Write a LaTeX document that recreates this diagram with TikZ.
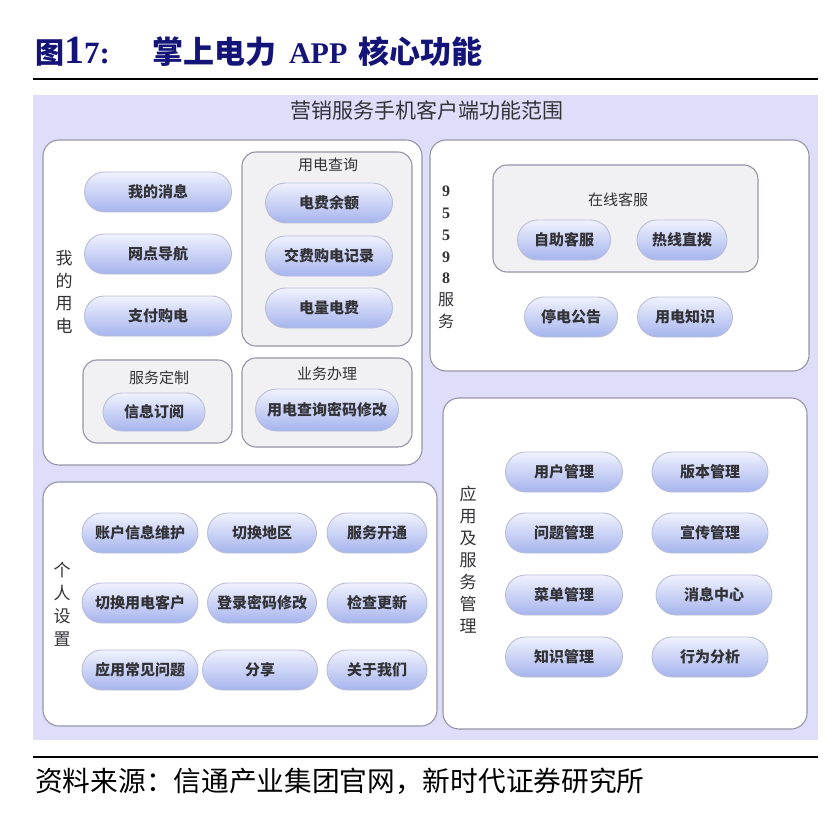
\documentclass[tikz,border=0pt]{standalone}
\usepackage{fontspec}
\setmainfont{Noto Sans CJK SC}
\newfontfamily\serifnum{Liberation Serif}
\usetikzlibrary{shapes.misc}

\definecolor{navy}{RGB}{20,20,120}
\definecolor{backlav}{RGB}{222,222,250}
\definecolor{panelrim}{RGB}{150,150,168}
\definecolor{subfill}{RGB}{241,241,244}
\definecolor{pilltop}{RGB}{240,242,253}
\definecolor{pillbot}{RGB}{166,180,238}
\definecolor{pillrim}{RGB}{185,190,215}
\definecolor{txtgray}{RGB}{50,50,55}

\begin{document}
\begin{tikzpicture}[x=1pt, y=-1pt,
    panel/.style={draw=panelrim, line width=1.1pt, fill=white, rounded corners=16pt, inner sep=0},
    subbox/.style={draw=panelrim, line width=1.1pt, fill=subfill, rounded corners=14pt, inner sep=0},
    pill/.style={rounded rectangle, draw=pillrim, line width=0.9pt,
        top color=pilltop, bottom color=pillbot, minimum height=40pt, inner sep=0,
        text=txtgray, font=\fontsize{15}{15}\selectfont\bfseries},
    sublabel/.style={text=txtgray, font=\fontsize{15}{15}\selectfont},
    vlabel/.style={text=txtgray, align=center, inner sep=0}]

    \useasboundingbox (0, 0) rectangle (838, 821);

    % Title and rules
    \node[anchor=west, text=navy, inner sep=0, font=\fontsize{31}{31}\selectfont\bfseries] (title) at (35, 52)
        {{\fontsize{29}{29}\selectfont 图}{\serifnum\fontsize{40}{40}\selectfont 1}{\serifnum 7:}\hspace{42pt}掌上电力\hspace{13pt}{\serifnum\fontsize{30}{30}\selectfont APP}\hspace{11pt}核心功能};
    \draw[line width=2pt] (33, 79) coordinate (rulea) -- (818, 79) coordinate (ruleb);
    \draw[line width=2pt] (33, 757) coordinate (rulec) -- (818, 757) coordinate (ruled);
    \node[anchor=west, inner sep=0, font=\fontsize{27.7}{27.7}\selectfont] (source) at (35, 781)
        {资料来源：信通产业集团官网，新时代证券研究所};

    % Background
    \fill[backlav] (33, 95) rectangle (818, 740);
    \node[text=txtgray, font=\fontsize{21}{21}\selectfont] (head) at (427, 110) {营销服务手机客户端功能范围};

    % Panels
    \node[panel, minimum width=379pt, minimum height=325pt] (myuse) at (232.5, 302.5) {};
    \node[panel, minimum width=379pt, minimum height=231pt] (hotline) at (619.5, 255.5) {};
    \node[panel, minimum width=394pt, minimum height=244pt] (personal) at (240, 604) {};
    \node[panel, minimum width=364pt, minimum height=331pt] (manage) at (625, 563.5) {};

    % My electricity use
    \node[vlabel, font=\fontsize{17}{22.7}\selectfont] (myuselbl) at (64, 292) {我\\的\\用\\电};
    \node[pill, minimum width=147pt] (msg) at (158, 192) {我的消息};
    \node[pill, minimum width=147pt] (nav) at (158, 254) {网点导航};
    \node[pill, minimum width=147pt] (pay) at (158, 316) {支付购电};

    \node[subbox, minimum width=170pt, minimum height=194pt] (query) at (327, 249) {};
    \node[sublabel] (querylbl) at (328, 165) {用电查询};
    \node[pill, minimum width=127pt] (balance) at (329, 203) {电费余额};
    \node[pill, minimum width=127pt] (record) at (329, 256) {交费购电记录};
    \node[pill, minimum width=127pt] (amount) at (329, 308) {电量电费};

    \node[subbox, minimum width=149pt, minimum height=83pt] (custom) at (157.5, 401.5) {};
    \node[sublabel] (customlbl) at (159, 378) {服务定制};
    \node[pill, minimum width=102pt, minimum height=38pt] (subscribe) at (154, 412) {信息订阅};

    \node[subbox, minimum width=170pt, minimum height=89pt] (handle) at (327, 402.5) {};
    \node[sublabel] (handlelbl) at (327, 374) {业务办理};
    \node[pill, minimum width=143pt, minimum height=42pt] (pwdquery) at (327, 410) {用电查询密码修改};

    % 95598 service
    \node[vlabel, font=\fontsize{16}{21.8}\selectfont] (hotlinelbl) at (446, 257.5)
        {{\serifnum\bfseries 9}\\{\serifnum\bfseries 5}\\{\serifnum\bfseries 5}\\{\serifnum\bfseries 9}\\{\serifnum\bfseries 8}\\服\\务};
    \node[subbox, minimum width=265pt, minimum height=107pt] (online) at (625.5, 218.5) {};
    \node[sublabel] (onlinelbl) at (618, 200) {在线客服};
    \node[pill, minimum width=93pt] (self) at (564, 240) {自助客服};
    \node[pill, minimum width=90pt] (direct) at (682, 240) {热线直拨};
    \node[pill, minimum width=93pt] (outage) at (571, 317) {停电公告};
    \node[pill, minimum width=95pt] (knowhow) at (685, 317) {用电知识};

    % Personal settings
    \node[vlabel, font=\fontsize{17}{23}\selectfont] (personallbl) at (62, 604) {个\\人\\设\\置};
    \node[pill, minimum width=116pt] (account) at (140, 533) {账户信息维护};
    \node[pill, minimum width=109pt] (region) at (262, 533) {切换地区};
    \node[pill, minimum width=100pt] (open) at (377, 533) {服务开通};
    \node[pill, minimum width=116pt] (switch) at (140, 603) {切换用电客户};
    \node[pill, minimum width=109pt] (login) at (262, 603) {登录密码修改};
    \node[pill, minimum width=100pt] (update) at (377, 603) {检查更新};
    \node[pill, minimum width=116pt] (faq) at (140, 670) {应用常见问题};
    \node[pill, minimum width=115pt] (share) at (260, 670) {分享};
    \node[pill, minimum width=100pt] (about) at (377, 670) {关于我们};

    % Application and service management
    \node[vlabel, font=\fontsize{17}{22}\selectfont] (managelbl) at (468, 560) {应\\用\\及\\服\\务\\管\\理};
    \node[pill, minimum width=117pt] (user) at (564, 472) {用户管理};
    \node[pill, minimum width=116pt] (version) at (710, 472) {版本管理};
    \node[pill, minimum width=117pt] (issue) at (564, 533) {问题管理};
    \node[pill, minimum width=116pt] (promo) at (710, 533) {宣传管理};
    \node[pill, minimum width=117pt] (menu) at (564, 595) {菜单管理};
    \node[pill, minimum width=116pt] (center) at (714, 595) {消息中心};
    \node[pill, minimum width=117pt] (knowledge) at (564, 657) {知识管理};
    \node[pill, minimum width=116pt] (behave) at (710, 657) {行为分析};

\end{tikzpicture}
\end{document}
